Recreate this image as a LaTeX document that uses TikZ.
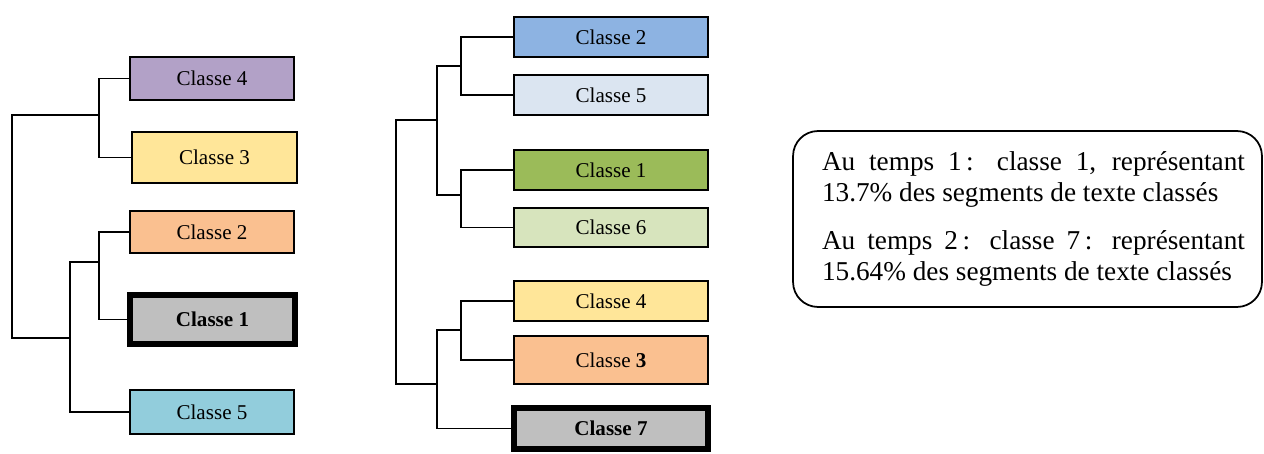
\documentclass[tikz,border=0pt]{standalone}
\usepackage{fontspec}
\setmainfont{Liberation Serif}
\usepackage{xcolor}
\definecolor{ClassPurple}{HTML}{B2A1C7}
\definecolor{ClassYellow}{HTML}{FFE699}
\definecolor{ClassOrange}{HTML}{FAC090}
\definecolor{ClassGrey}{HTML}{BFBFBF}
\definecolor{ClassAqua}{HTML}{92CDDC}
\definecolor{ClassBlue}{HTML}{8DB3E2}
\definecolor{ClassPaleBlue}{HTML}{DBE5F1}
\definecolor{ClassGreen}{HTML}{9BBB59}
\definecolor{ClassPaleGreen}{HTML}{D7E4BD}
\usepackage{tikz}

\tikzset{
    classbox/.style={
        draw,
        line width=1pt,
        inner sep=0pt,
        font=\fontsize{12}{14}\selectfont
    },
    keybox/.style={
        classbox,
        line width=3.2pt
    },
    branch/.style={
        line width=0.8pt
    },
    infobox/.style={
        draw,
        line width=1pt,
        rounded corners=0.5cm,
        minimum width=9.38cm,
        minimum height=3.52cm,
        inner sep=0pt,
        font=\fontsize{15.5}{17.6}\selectfont
    }
}

\begin{document}
\begin{tikzpicture}[x=0.02cm,y=-0.02cm]
%
    \useasboundingbox (0,0) rectangle (1264,453);
%
    % time 1
    \foreach \n/\s/\xc/\yc/\h/\c/\t in {
        4/classbox/212/78.5/0.86cm/ClassPurple/{Classe 4},
        3/classbox/214.5/157.5/1.02cm/ClassYellow/{Classe 3},
        2/classbox/212/232/0.84cm/ClassOrange/{Classe 2},
        1/keybox/212.5/319.5/0.99cm/ClassGrey/{\textbf{Classe 1}},
        5/classbox/212/412/0.88cm/ClassAqua/{Classe 5}}{
        \node[
            \s,
            fill=\c,
            minimum width=3.29cm,
            minimum height=\h
        ]
        (L\n) at (\xc,\yc) {\t};
    }
%
    \coordinate (jL43) at (99,115);
    \coordinate (jL21) at (99,262);
    \coordinate (jL215) at (70,338);
    \coordinate (rootL) at (12,228);
%
    \draw[branch] (L4.west) -| (jL43) |- (L3.west);
    \draw[branch] (L2.west) -| (jL21) |- (L1.west);
    \draw[branch] (jL21) -| (jL215) |- (L5.west);
    \draw[branch] (jL43) -| (rootL) |- (jL215);
%
    % time 2
    \foreach \n/\s/\yc/\h/\c/\t in {
        2/classbox/37/0.8cm/ClassBlue/{Classe 2},
        5/classbox/95/0.8cm/ClassPaleBlue/{Classe 5},
        1/classbox/170/0.8cm/ClassGreen/{Classe 1},
        6/classbox/227.5/0.78cm/ClassPaleGreen/{Classe 6},
        4/classbox/301/0.8cm/ClassYellow/{Classe 4},
        3/classbox/360/0.96cm/ClassOrange/{Classe \textbf{3}},
        7/keybox/428.5/0.83cm/ClassGrey/{\textbf{Classe 7}}}{
        \node[
            \s,
            fill=\c,
            minimum width=3.88cm,
            minimum height=\h
        ]
        (M\n) at (611,\yc) {\t};
    }
%
    \coordinate (jM25) at (461,66);
    \coordinate (jM16) at (461,195);
    \coordinate (jMA) at (437,120);
    \coordinate (jM43) at (461,330);
    \coordinate (jMB) at (437,384);
    \coordinate (rootM) at (396,252);
%
    \draw[branch] (M2.west) -| (jM25) |- (M5.west);
    \draw[branch] (M1.west) -| (jM16) |- (M6.west);
    \draw[branch] (jM25) -| (jMA) |- (jM16);
    \draw[branch] (M4.west) -| (jM43) |- (M3.west);
    \draw[branch] (jM43) -| (jMB) |- (M7.west);
    \draw[branch] (jMA) -| (rootM) |- (jMB);
%
    \node[
        infobox
    ]
    (info) at (1027.5,219) {%
        \hspace*{0.24cm}%
        \begin{minipage}{8.46cm}
            \setlength{\parskip}{9.5pt}%
            \tolerance=10000 \hyphenpenalty=10000
            Au temps 1\,: classe 1, représentant 13.7\% des segments de texte classés\par
            Au temps 2\,: classe 7\,: représentant 15.64\% des segments de texte classés
        \end{minipage}%
    };
%
\end{tikzpicture}
\end{document}
